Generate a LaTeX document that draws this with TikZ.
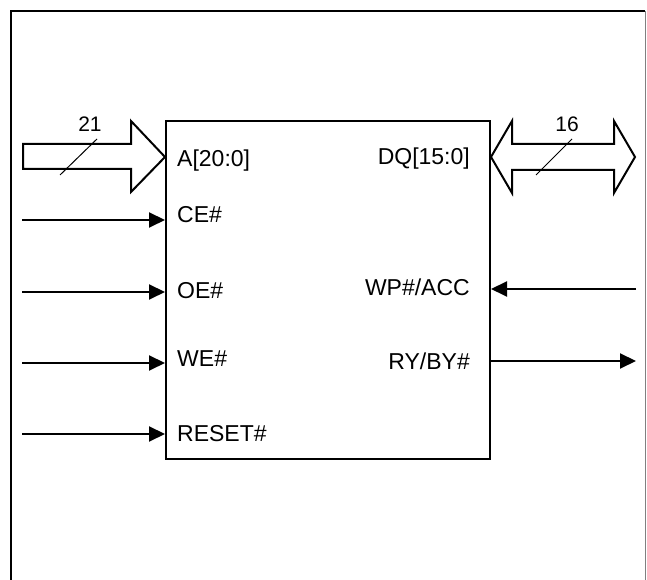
\documentclass[tikz,border=0pt]{standalone}
\usepackage{fontspec}
\setmainfont{Liberation Sans}
\usetikzlibrary{arrows.meta}

\begin{document}
\begin{tikzpicture}[
    x=1pt, y=1pt,
    chipbox/.style={
        rectangle, draw=black, line width=2pt,
        minimum width=324pt, minimum height=338pt,
        inner sep=0pt
    },
    pin/.style={inner sep=0pt, font=\fontsize{23}{28}\selectfont},
    busnum/.style={inner sep=0pt, font=\fontsize{21}{26}\selectfont},
    sig/.style={-{Triangle[length=16pt, width=15pt]}, line width=2pt},
    bus/.style={draw=black, line width=2pt, fill=white, line join=miter},
    tick/.style={line width=1pt},
]
\useasboundingbox (0,0) rectangle (647,580);

% Frame
\draw[line width=1.2pt] (11,0) -- (11,569) -- (645,569);
\draw[gray, line width=1pt] (645,569) -- (645,0);

% Chip
\node[chipbox] (chip) at (328,290) {};

% Pin names, left
\node[pin, anchor=base west] (aName)     at (177,413) {A[20:0]};
\node[pin, anchor=base west] (ceName)    at (177,357) {CE\#};
\node[pin, anchor=base west] (oeName)    at (177,281) {OE\#};
\node[pin, anchor=base west] (weName)    at (177,213) {WE\#};
\node[pin, anchor=base west] (resetName) at (177,138) {RESET\#};

% Pin names, right
\node[pin, anchor=base east] (dqName) at (470,415) {DQ[15:0]};
\node[pin, anchor=base east] (wpName) at (470,284) {WP\#/ACC};
\node[pin, anchor=base east] (ryName) at (470,210) {RY/BY\#};

% Address bus
\coordinate (aIn) at (24,423);
\draw[bus] (aIn -| chip.west) -- ++(-34,36) -- ++(0,-23) -- ++(-108,0)
    -- ++(0,-25) -- ++(108,0) -- ++(0,-23) -- cycle;
\draw[tick] (60,405) -- (97,441);
\node[busnum] (aWidth) at (90,456) {21};

% Data bus
\coordinate (dqOut) at (635,423);
\draw[bus] (chip.east |- dqOut) -- ++(21,36) -- ++(0,-23) -- ++(102,0)
    -- ++(0,23) -- (dqOut) -- ++(-21,-36) -- ++(0,23) -- ++(-102,0)
    -- ++(0,-23) -- cycle;
\draw[tick] (536,405) -- (572,441);
\node[busnum] (dqWidth) at (567,456) {16};

% Control inputs
\coordinate (ceIn)    at (22,360);
\coordinate (oeIn)    at (22,288);
\coordinate (weIn)    at (22,217);
\coordinate (resetIn) at (22,146);
\draw[sig] (ceIn) -- (ceIn -| chip.west);
\draw[sig] (oeIn) -- (oeIn -| chip.west);
\draw[sig] (weIn) -- (weIn -| chip.west);
\draw[sig] (resetIn) -- (resetIn -| chip.west);

% WP#/ACC in, RY/BY# out
\coordinate (wpIn)  at (636,291);
\coordinate (ryOut) at (636,219);
\draw[sig] (wpIn) -- (wpIn -| chip.east);
\draw[sig] (ryOut -| chip.east) -- (ryOut);

\end{tikzpicture}
\end{document}
